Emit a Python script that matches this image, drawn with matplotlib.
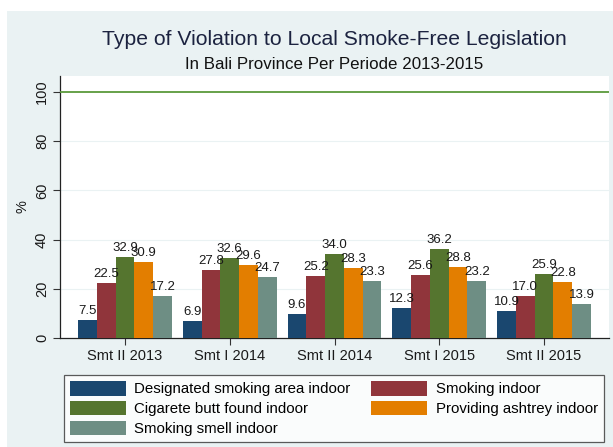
import matplotlib
matplotlib.use("Agg")
import matplotlib.pyplot as plt
from matplotlib.patches import Rectangle, Patch
import numpy as np

plt.rcParams['font.family'] = ['Liberation Sans', 'DejaVu Sans']

periods = ["Smt II 2013", "Smt I 2014", "Smt II 2014", "Smt I 2015", "Smt II 2015"]
series_names = ["Designated smoking area indoor", "Smoking indoor", "Cigarete butt found indoor",
                "Providing ashtrey indoor", "Smoking smell indoor"]
designated = [7.5, 6.9, 9.6, 12.3, 10.9]
smoking = [22.5, 27.8, 25.2, 25.6, 17.0]
butt = [32.9, 32.6, 34.0, 36.2, 25.9]
ashtray = [30.9, 29.6, 28.3, 28.8, 22.8]
smell = [17.2, 24.7, 23.3, 23.2, 13.9]
series = [designated, smoking, butt, ashtray, smell]
colors = ["#1a476f", "#90353b", "#55752f", "#e37e00", "#6e8e84"]
yticks = [0, 20, 40, 60, 80, 100]

W, H = 613, 447
fig = plt.figure(figsize=(W/100, H/100), dpi=100)
fig.patch.set_facecolor("white")
fig.patches.append(Rectangle((7/W, 0), 1 - 7/W, 1 - 11/H, transform=fig.transFigure,
                             facecolor="#eaf2f3", edgecolor="none", zorder=-10))

ax = fig.add_axes([60/W, 1 - 338/H, (609-60)/W, (338-76)/H])
ax.set_facecolor("white")

x = np.arange(len(periods))
bw = 0.179
for j, (vals, c) in enumerate(zip(series, colors)):
    pos = x + (j - 2) * bw
    ax.bar(pos, vals, width=bw, color=c, edgecolor="none", zorder=3, label=series_names[j])
    for p, v in zip(pos, vals):
        ax.text(p, v + 1.2, f"{v:.1f}", ha="center", va="bottom", fontsize=9.5,
                color="#1a1a1a", zorder=5)

ax.axhline(100, color="#5a9a3c", lw=1.3, zorder=4)
for g in [20, 40, 60, 80]:
    ax.axhline(g, color="#eaf2f3", lw=0.8, zorder=1)

ax.set_xlim(-0.62, 4.62)
ax.set_ylim(0, 106.5)
ax.set_xticks(x)
ax.set_xticklabels(periods, fontsize=10.5, color="#1a1a1a")
ax.set_yticks(yticks)
ax.set_yticklabels([str(t) for t in yticks], rotation=90, va="center", fontsize=10.5, color="#1a1a1a")
ax.tick_params(axis="both", direction="out", length=5, width=0.8, color="#333333")
ax.tick_params(axis="x", pad=3)
ax.tick_params(axis="y", pad=3)
ax.set_ylabel("%", fontsize=10.5, color="#1a1a1a", labelpad=4)
for s in ["top", "right"]:
    ax.spines[s].set_visible(False)
ax.spines["left"].set_color("#222222")
ax.spines["bottom"].set_color("#222222")
ax.spines["left"].set_linewidth(0.9)
ax.spines["bottom"].set_linewidth(0.9)

fig.text(334/W, 1 - 39.5/H, "Type of Violation to Local Smoke-Free Legislation", ha="center", va="center",
         fontsize=15.2, color="#1c2340")
fig.text(334/W, 1 - 64.5/H, "In Bali Province Per Periode 2013-2015", ha="center", va="center",
         fontsize=12.2, color="#111111")

order = [0, 2, 4, 1, 3]
handles = [Patch(facecolor=colors[i], edgecolor="none") for i in order]
labels = [series_names[i] for i in order]
leg = fig.legend(handles, labels, ncol=2, loc="lower left",
                 bbox_to_anchor=(64/W, 1 - 442/H, (604-64)/W, (442-378)/H),
                 mode="expand", fontsize=10.8, frameon=True, fancybox=False,
                 handlelength=3.7, handleheight=1.1, handletextpad=0.6,
                 labelspacing=0.3, borderpad=0.4, borderaxespad=0, columnspacing=1.5)
leg.get_frame().set_edgecolor("#333333")
leg.get_frame().set_linewidth(0.9)
leg.get_frame().set_facecolor("white")

fig.savefig("out.png", dpi=100, facecolor=fig.get_facecolor())
